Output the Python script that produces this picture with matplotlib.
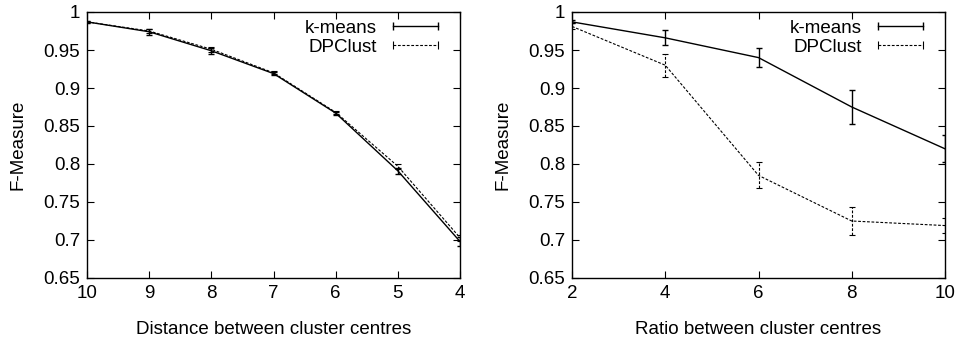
import numpy as np
import matplotlib.pyplot as plt
from matplotlib.lines import Line2D

plt.rcParams['font.family'] = ['Liberation Sans', 'DejaVu Sans']

# left panel: distance between cluster centres
dist = [10, 9, 8, 7, 6, 5, 4]
km_dist = [0.987, 0.974, 0.949, 0.919, 0.867, 0.791, 0.698]
km_dist_err = [0.001, 0.004, 0.004, 0.002, 0.002, 0.004, 0.006]
dp_dist = [0.987, 0.975, 0.951, 0.920, 0.868, 0.797, 0.703]
dp_dist_err = [0.001, 0.003, 0.003, 0.002, 0.002, 0.003, 0.004]

# right panel: ratio between cluster centres
ratio = [2, 4, 6, 8, 10]
km_ratio = [0.987, 0.966, 0.940, 0.875, 0.820]
km_ratio_err = [0.002, 0.010, 0.013, 0.023, 0.018]
dp_ratio = [0.981, 0.930, 0.785, 0.725, 0.719]
dp_ratio_err = [0.004, 0.015, 0.017, 0.019, 0.010]

dash = (0, (2.5, 1.5))
fs = 13.5

fig = plt.figure(figsize=(9.59, 3.40), dpi=100)
ax1 = fig.add_axes([87 / 959, 62 / 340, 373 / 959, 266 / 340])
ax2 = fig.add_axes([572 / 959, 62 / 340, 373 / 959, 266 / 340])


def panel(ax, x, km, km_err, dp, dp_err, xlabel, xticks, xlim):
    ax.errorbar(x, km, yerr=km_err, color='k', lw=1.0, elinewidth=1.0,
                capsize=2.5, capthick=1.0)
    e = ax.errorbar(x, dp, yerr=dp_err, color='k', lw=0.8, elinewidth=0.8,
                    capsize=2.5, capthick=0.8, ls=dash)
    e[-1][0].set_linestyle(dash)
    ax.set_xlim(*xlim)
    ax.set_ylim(0.65, 1.0)
    ax.set_xticks(xticks)
    ax.set_xticklabels([str(t) for t in xticks])
    yt = np.arange(0.65, 1.001, 0.05)
    ax.set_yticks(yt)
    ax.set_yticklabels(['0.65', '0.7', '0.75', '0.8', '0.85', '0.9', '0.95', '1'])
    ax.tick_params(direction='in', top=True, right=True, length=5,
                   labelsize=fs, pad=5)
    ax.set_xlabel(xlabel, fontsize=fs, labelpad=14)
    ax.set_ylabel('F-Measure', fontsize=fs, labelpad=12)
    for s in ax.spines.values():
        s.set_linewidth(1.0)
    handles = [
        Line2D([], [], color='k', lw=1.0, marker='|', ms=6, mew=1.0),
        Line2D([], [], color='k', lw=0.8, ls=dash, marker='|', ms=6, mew=0.8),
    ]
    ax.legend(handles, ['k-means', 'DPClust'], loc='upper right',
              bbox_to_anchor=(0.955, 0.971),
              frameon=False, markerfirst=False, numpoints=2,
              fontsize=fs, handlelength=3.0, labelspacing=0.1,
              borderaxespad=0, borderpad=0, handletextpad=0.55)


panel(ax1, dist, km_dist, km_dist_err, dp_dist, dp_dist_err,
      'Distance between cluster centres', dist, (10, 4))
panel(ax2, ratio, km_ratio, km_ratio_err, dp_ratio, dp_ratio_err,
      'Ratio between cluster centres', ratio, (2, 10))

fig.savefig('out.png', dpi=100)
